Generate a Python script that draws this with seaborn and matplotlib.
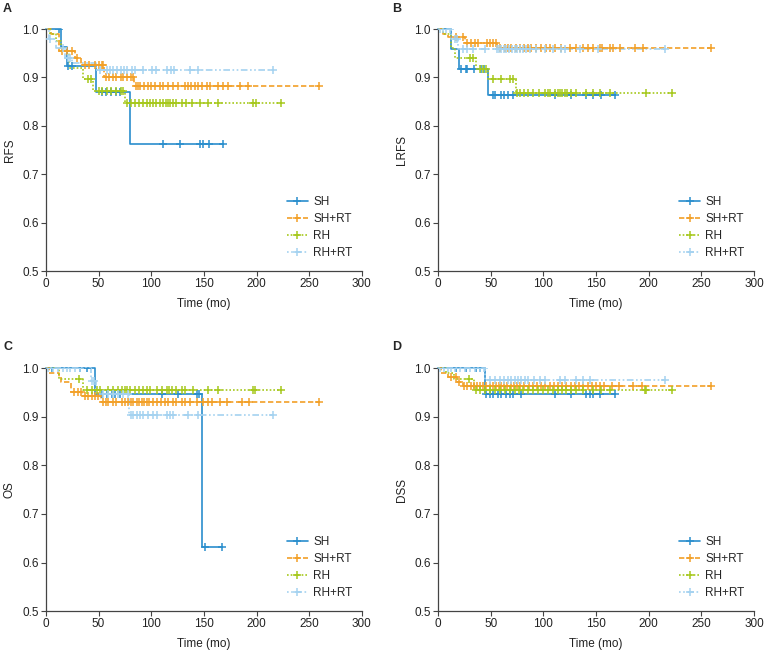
import numpy as np
import pandas as pd
import seaborn as sns
import matplotlib.pyplot as plt
from matplotlib.lines import Line2D

groups = ["SH", "SH+RT", "RH", "RH+RT"]
colors = ["#2a8ecd", "#f2a028", "#a6c81c", "#a4d2f0"]
panel_letters = ["A", "B", "C", "D"]
ylabels = ["RFS", "LRFS", "OS", "DSS"]
xticks = [0, 50, 100, 150, 200, 250, 300]
yticks = [0.5, 0.6, 0.7, 0.8, 0.9, 1.0]

# ---- A: RFS ----  event times (mo), survival after each event, censor times
A_SH_t = [14, 20, 48, 80]
A_SH_s = [0.962, 0.923, 0.870, 0.762]
A_SH_c = [12.7, 21, 25, 53, 57, 62, 67, 70, 111, 127, 146, 149, 155, 168]
A_SHRT_t = [5, 12, 28, 33, 55, 84]
A_SHRT_s = [0.99, 0.955, 0.94, 0.925, 0.90, 0.883]
A_SHRT_c = [15, 19.6, 25, 30, 37, 41, 46.5, 50.6, 53, 54, 57, 60, 64, 67, 71, 73, 77, 81, 83,
            85.4, 87.7, 89.2, 93, 97, 100, 103.5, 108, 111, 116, 121, 125.6, 132, 135, 138,
            141.5, 144.6, 147.8, 152.5, 156, 163.6, 167.7, 173, 184, 192, 259.5]
A_RH_t = [4, 10, 14, 22, 35, 45, 75]
A_RH_s = [0.99, 0.975, 0.955, 0.92, 0.897, 0.873, 0.848]
A_RH_c = [40, 43, 50, 53, 57.6, 62, 67, 71, 73.4, 76.6, 80.4, 84.5, 88.6, 92.4, 95.6, 98.7,
          101.9, 105, 108.2, 111.4, 113.6, 115.5, 117.7, 120.9, 124, 128.8, 133.5, 138.3,
          146.2, 154, 163.6, 196.8, 199.4, 223.7]
A_RHRT_t = [3, 10, 18, 25, 48]
A_RHRT_s = [0.98, 0.96, 0.94, 0.93, 0.915]
A_RHRT_c = [4, 16.5, 21, 23, 51.3, 57.6, 60.8, 63.9, 67.7, 70.9, 74, 77.2, 81.3, 84.5, 91.8,
            100.3, 105, 114.6, 118.4, 121.5, 136.7, 144.6, 215.2]

# ---- B: LRFS ----
B_SH_t = [12, 20, 47.5]
B_SH_s = [0.959, 0.918, 0.864]
B_SH_c = [22.2, 26.3, 27.5, 33.9, 41.1, 43.4, 52.2, 53.8, 60.1, 62.3, 66.5, 71.2, 110.8,
          126.6, 140.8, 147.2, 155, 167.7]
B_SHRT_t = [5, 10, 26, 56]
B_SHRT_s = [0.99, 0.983, 0.972, 0.96]
B_SHRT_c = [16.8, 23.7, 27.5, 31.6, 34.8, 38, 46.8, 49.7, 52.2, 55.4, 58.5, 63.3, 66.5, 69.6,
            73.7, 77.5, 81.3, 85.4, 88.6, 93.4, 98.1, 102.8, 106.6, 110.8, 117.1, 125.6,
            131.3, 137.7, 142.4, 147.2, 153.5, 156, 163, 166.1, 172.5, 186.7, 194.6, 258.9]
B_RH_t = [5, 12, 16, 36, 47.5, 74]
B_RH_s = [0.99, 0.96, 0.94, 0.918, 0.896, 0.867]
B_RH_c = [30.7, 33.2, 40.2, 42.7, 45.3, 52.2, 60.1, 68, 71.2, 75, 77.5, 81.3, 85.4, 90.2,
          95.9, 101.3, 104.4, 106.6, 110.8, 113.9, 115.5, 118, 120.3, 122.5, 126.6, 131.3,
          140.8, 147.2, 154.1, 163, 197.8, 222.5]
B_RHRT_t = [12.6, 19]
B_RHRT_s = [0.98, 0.958]
B_RHRT_c = [1.6, 4.7, 8, 11, 15.8, 18, 23.7, 27.5, 33.2, 44.3, 56, 57.9, 60.1, 62.3, 64.9,
            67.4, 70.6, 72.8, 75, 77.5, 80.7, 83.2, 87, 93.4, 101.3, 109.2, 117.1, 120.3,
            134.5, 151.9, 215.2]

# ---- C: OS ----
C_SH_t = [46.5, 148.4]
C_SH_s = [0.947, 0.632]
C_SH_c = [5.4, 32.3, 39.2, 52.8, 57.6, 62.3, 65.5, 70.3, 109.8, 125.6, 143, 145.6, 151, 167]
C_SHRT_t = [3, 12, 14, 24, 34, 52]
C_SHRT_s = [0.99, 0.982, 0.971, 0.952, 0.943, 0.931]
C_SHRT_c = [26.6, 30.7, 33, 37, 40.2, 43.4, 46.5, 49.7, 54.4, 57, 59.2, 64, 67, 71.8, 75,
            78.2, 80.4, 82.9, 86.1, 88.6, 90.8, 93, 95.6, 98.1, 101.3, 105.1, 108.9, 113,
            116.1, 120.3, 124, 128.8, 132, 136.7, 143, 149.4, 154.1, 157.3, 165.2, 171.5,
            185.8, 193, 259.5]
C_RH_t = [12, 35.4]
C_RH_s = [0.978, 0.956]
C_RH_c = [31.6, 39.2, 43.4, 48.1, 51.3, 59.2, 63.9, 68.7, 71.8, 75, 77.2, 79.7, 84.5, 88.6,
          92.4, 95.6, 98.7, 105.1, 109.8, 114.6, 117.1, 119.3, 124, 128.8, 132, 139.9,
          154.1, 163.6, 196.8, 198.4, 223.7]
C_RHRT_t = [43, 48, 79]
C_RHRT_s = [0.975, 0.948, 0.903]
C_RHRT_c = [2.2, 7, 11.7, 16.5, 19.6, 22.8, 27.5, 32.3, 44, 45.9, 54.4, 59.2, 63.9, 68.7,
            73.4, 78.2, 80.4, 82.9, 86.1, 89.2, 92.4, 97.2, 101.9, 105.1, 114.6, 117.7,
            120.9, 135.1, 144.6, 215.2]

# ---- D: DSS ----
D_SH_t = [45]
D_SH_s = [0.948]
D_SH_c = [17.4, 26.9, 35.8, 39.6, 45.9, 49, 52.2, 57, 60.1, 64.9, 68.7, 71.2, 79.1, 110.8,
          126.6, 140.8, 144.6, 147.2, 154.1, 167.7]
D_SHRT_t = [3, 10, 18, 24]
D_SHRT_s = [0.99, 0.982, 0.972, 0.963]
D_SHRT_c = [12.7, 16.8, 20, 25, 28, 31, 34, 37, 40, 43, 46, 49, 52, 55, 58, 60, 63, 66, 69,
            72, 75, 78, 82, 86, 90, 94, 98, 102, 106, 110, 114, 118, 122, 126, 130, 134,
            138, 142, 146, 150, 154, 158, 165, 172, 185, 194, 259]
D_RH_t = [8, 15, 34]
D_RH_s = [0.99, 0.978, 0.956]
D_RH_c = [29.4, 36.4, 39.6, 44.3, 49, 53.8, 58.5, 63.3, 68, 72.8, 76.9, 80.7, 85.4, 90.2,
          94.9, 99.7, 104.4, 109.2, 113.9, 118, 121.8, 126.6, 131.3, 137.7, 147.2, 155, 163,
          196.2, 197.8, 222.5]
D_RHRT_t = [45]
D_RHRT_s = [0.976]
D_RHRT_c = [1.6, 5.4, 9.5, 12.7, 15.8, 20.6, 25.3, 30.1, 34.8, 39.6, 43.4, 49, 53.8, 58.5,
            62.3, 66.5, 69.6, 72.8, 75.9, 79.1, 82.3, 85.4, 90.8, 96.5, 101.3, 115.5, 120.3,
            131.3, 137.7, 144, 215.2]

panels = [
    [(A_SH_t, A_SH_s, A_SH_c), (A_SHRT_t, A_SHRT_s, A_SHRT_c), (A_RH_t, A_RH_s, A_RH_c), (A_RHRT_t, A_RHRT_s, A_RHRT_c)],
    [(B_SH_t, B_SH_s, B_SH_c), (B_SHRT_t, B_SHRT_s, B_SHRT_c), (B_RH_t, B_RH_s, B_RH_c), (B_RHRT_t, B_RHRT_s, B_RHRT_c)],
    [(C_SH_t, C_SH_s, C_SH_c), (C_SHRT_t, C_SHRT_s, C_SHRT_c), (C_RH_t, C_RH_s, C_RH_c), (C_RHRT_t, C_RHRT_s, C_RHRT_c)],
    [(D_SH_t, D_SH_s, D_SH_c), (D_SHRT_t, D_SHRT_s, D_SHRT_c), (D_RH_t, D_RH_s, D_RH_c), (D_RHRT_t, D_RHRT_s, D_RHRT_c)],
]

sns.set_theme(style="ticks")
plt.rcParams["font.family"] = ["Liberation Sans", "DejaVu Sans"]

palette = dict(zip(groups, colors))
dash_ls = {"SH": "-", "SH+RT": (0, (3.2, 1.6)), "RH": (0, (1, 1.2)), "RH+RT": (0, (1, 1.5, 1, 1.5, 4, 1.5))}

fig = plt.figure(figsize=(7.65, 6.54), dpi=100)
positions = [(0.060, 0.5856, 0.413, 0.370), (0.5725, 0.5856, 0.413, 0.370),
             (0.060, 0.0657, 0.413, 0.371), (0.5725, 0.0657, 0.413, 0.371)]
label_pos = [(0.004, 0.987), (0.512, 0.987), (0.004, 0.470), (0.512, 0.470)]

for i, data in enumerate(panels):
    ax = fig.add_axes(positions[i])
    rows, cens = [], []
    for g, (t, s, c) in zip(groups, data):
        end = max(c + t)
        xs = [0] + list(t) + [end]
        ys = [1.0] + list(s) + [s[-1]]
        for x, y in zip(xs, ys):
            rows.append({"time": x, "surv": y, "group": g})
        # survival value at each censor time
        tt = np.array([0] + list(t))
        ss = np.array([1.0] + list(s))
        idx = np.searchsorted(tt, np.array(c), side="right") - 1
        for x, y in zip(c, ss[idx]):
            cens.append({"time": x, "surv": y, "group": g})
    df = pd.DataFrame(rows)
    dc = pd.DataFrame(cens)
    for g in groups:
        sns.lineplot(data=df[df.group == g], x="time", y="surv", color=palette[g],
                     linestyle=dash_ls[g], drawstyle="steps-post", estimator=None,
                     sort=False, lw=1.2, legend=False, ax=ax)
        sns.scatterplot(data=dc[dc.group == g], x="time", y="surv", color=palette[g],
                        marker="+", s=26, linewidth=1.1, legend=False, ax=ax, zorder=3)

    ax.set_xlim(0, 300)
    ax.set_ylim(0.5, 1.0)
    ax.set_xticks(xticks)
    ax.set_yticks(yticks)
    ax.set_yticklabels([f"{v:.1f}" for v in yticks])
    ax.tick_params(labelsize=8.5, length=3.5, width=0.8, color="#444444",
                   labelcolor="#222222", pad=1.5)
    for sp in ["left", "bottom"]:
        ax.spines[sp].set_color("#444444")
        ax.spines[sp].set_linewidth(0.9)
    sns.despine(ax=ax)
    ax.set_xlabel("Time (mo)", fontsize=8.5, labelpad=6, color="#222222")
    ax.set_ylabel(ylabels[i], fontsize=8.5, labelpad=5, color="#222222")
    ax.patch.set_visible(False)
    for line in ax.lines:
        line.set_clip_on(False)

    handles = [Line2D([0], [0], color=palette[g], linestyle=dash_ls[g], lw=1.2,
                      marker="+", markersize=6, markeredgewidth=1.1) for g in groups]
    ax.legend(handles, groups, loc="lower right", bbox_to_anchor=(0.985, 0.03),
              frameon=False, fontsize=8.5, handlelength=1.75, handletextpad=0.45,
              labelspacing=0.42, borderaxespad=0)

    fig.text(label_pos[i][0], label_pos[i][1], panel_letters[i], fontsize=9,
             fontweight="bold", va="center", ha="left")

fig.savefig("out.png", dpi=100)
